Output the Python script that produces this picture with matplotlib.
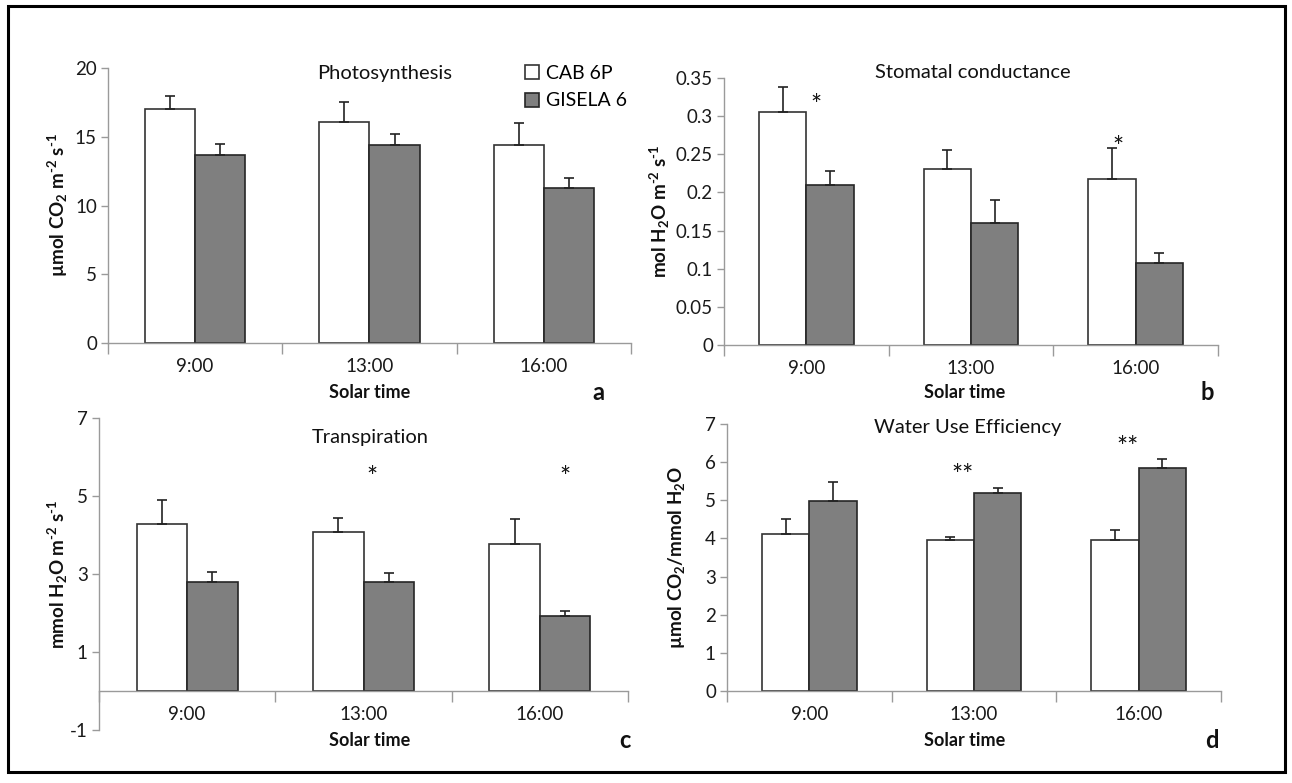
import matplotlib
matplotlib.use("Agg")
import matplotlib.pyplot as plt
import numpy as np
from matplotlib.patches import Rectangle

plt.rcParams['font.family'] = ['Lato', 'DejaVu Sans']
plt.rcParams['mathtext.fontset'] = 'custom'
plt.rcParams['mathtext.rm'] = 'Lato:bold'
plt.rcParams['mathtext.bf'] = 'Lato:bold'
plt.rcParams['mathtext.default'] = 'bf'

W, H = 1292, 783
DPI = 100

# ---------------- data ----------------
times = ["9:00", "13:00", "16:00"]
series = ["CAB 6P", "GISELA 6"]

photo_cab = [17.0, 16.1, 14.4]
photo_cab_err = [1.0, 1.4, 1.6]
photo_gis = [13.7, 14.4, 11.3]
photo_gis_err = [0.8, 0.8, 0.7]

stom_cab = [0.305, 0.231, 0.217]
stom_cab_err = [0.033, 0.024, 0.041]
stom_gis = [0.210, 0.160, 0.107]
stom_gis_err = [0.018, 0.030, 0.013]

trans_cab = [4.27, 4.07, 3.78]
trans_cab_err = [0.62, 0.37, 0.62]
trans_gis = [2.79, 2.80, 1.93]
trans_gis_err = [0.25, 0.23, 0.12]

wue_cab = [4.12, 3.97, 3.97]
wue_cab_err = [0.38, 0.06, 0.26]
wue_gis = [4.97, 5.18, 5.85]
wue_gis_err = [0.52, 0.15, 0.22]

titles = ["Photosynthesis", "Stomatal conductance", "Transpiration", "Water Use Efficiency"]
ylabels = [r"µmol CO$_2$ m$^{\text{-2}}$ s$^{\text{-1}}$",
           r"mol H$_2$O m$^{\text{-2}}$ s$^{\text{-1}}$",
           r"mmol H$_2$O m$^{\text{-2}}$ s$^{\text{-1}}$",
           r"µmol CO$_2$/mmol H$_2$O"]
ylims = [(0, 20), (0, 0.35), (-1, 7), (0, 7)]
yticks = [[0, 5, 10, 15, 20],
          [0, 0.05, 0.1, 0.15, 0.2, 0.25, 0.3, 0.35],
          [-1, 1, 3, 5, 7],
          [0, 1, 2, 3, 4, 5, 6, 7]]
ytick_labels = [["0", "5", "10", "15", "20"],
                ["0", "0.05", "0.1", "0.15", "0.2", "0.25", "0.3", "0.35"],
                ["-1", "1", "3", "5", "7"],
                ["0", "1", "2", "3", "4", "5", "6", "7"]]
letters = ["a", "b", "c", "d"]
# significance marks: (x in category units, y in data units, text)
sig_b = [(0.06, 0.313, "*"), (1.89, 0.257, "*")]
sig_c = [(1.05, 5.45, "*"), (2.14, 5.45, "*")]
sig_d = [(0.93, 5.62, "**"), (1.93, 6.35, "**")]

# ---------------- layout (pixels) ----------------
# left, right, top(y of ymax), bottom(y of ymin)
boxes = [(108, 631, 68, 343),
         (724, 1218, 78, 345),
         (99, 628, 418, 730),
         (727, 1221, 424, 691)]
ylabel_x = [70, 672, 70, 687]
title_pos = [(385, 73), (973, 73), (370, 437), (968, 427)]
solar_pos = [(370, 393), (965, 393), (370, 740), (965, 740)]
letter_pos = [(598, 392), (1207, 392), (625, 740), (1212, 740)]

fig = plt.figure(figsize=(W / DPI, H / DPI), dpi=DPI)
fig.patch.set_facecolor('white')

data = [(photo_cab, photo_cab_err, photo_gis, photo_gis_err),
        (stom_cab, stom_cab_err, stom_gis, stom_gis_err),
        (trans_cab, trans_cab_err, trans_gis, trans_gis_err),
        (wue_cab, wue_cab_err, wue_gis, wue_gis_err)]
sigs = [[], sig_b, sig_c, sig_d]

axis_col = '#9a9a9a'
bw = 0.287
x = np.arange(len(times))
handles = None
for i in range(4):
    l, r, t, b = boxes[i]
    ax = fig.add_axes([l / W, 1 - b / H, (r - l) / W, (b - t) / H])
    cab, cab_e, gis, gis_e = data[i]
    ekw = dict(ecolor='#222222', elinewidth=1.2, capsize=3.5, capthick=1.2)
    h1 = ax.bar(x - bw / 2, cab, bw, color='white', edgecolor='#333333', linewidth=1.2,
                yerr=[np.zeros(3), cab_e], error_kw=ekw, label=series[0], zorder=2)
    h2 = ax.bar(x + bw / 2, gis, bw, color='#7f7f7f', edgecolor='#262626', linewidth=1.2,
                yerr=[np.zeros(3), gis_e], error_kw=ekw, label=series[1], zorder=2)
    if handles is None:
        handles = (h1, h2)
    ax.set_xlim(-0.5, 2.5)
    ax.set_ylim(*ylims[i])
    ax.set_yticks(yticks[i])
    ax.set_yticklabels(ytick_labels[i])
    ax.set_xticks(x)
    ax.set_xticklabels(times)
    ax.set_xticks([-0.5, 0.5, 1.5, 2.5], minor=True)
    for s in ['top', 'right']:
        ax.spines[s].set_visible(False)
    for s in ['left', 'bottom']:
        ax.spines[s].set_color(axis_col)
        ax.spines[s].set_linewidth(1.0)
    if i == 2:
        ax.spines['bottom'].set_position(('data', 0))
    ax.tick_params(axis='y', direction='out', length=5, width=1, color=axis_col,
                   labelsize=13.5, labelcolor='#1a1a1a', pad=3)
    ax.tick_params(axis='x', which='major', length=0, labelsize=13.5,
                   labelcolor='#1a1a1a', pad=11)
    ax.tick_params(axis='x', which='minor', direction='out', length=8, width=1,
                   color=axis_col)
    ax.set_ylabel(ylabels[i], fontsize=13.5, fontweight='bold', color='#111111')
    ax.yaxis.set_label_coords((ylabel_x[i] - l) / (r - l), 0.5)
    ax.patch.set_alpha(0)
    for (sx, sy, st) in sigs[i]:
        ax.text(sx, sy, st, ha='center', va='center', fontsize=19, color='#111111')

    tx, ty = title_pos[i]
    fig.text(tx / W, 1 - ty / H, titles[i], ha='center', va='center', fontsize=14.5,
             color='#111111')
    sx_, sy_ = solar_pos[i]
    fig.text(sx_ / W, 1 - sy_ / H, "Solar time", ha='center', va='center', fontsize=13,
             fontweight='bold', color='#111111')
    lx, ly = letter_pos[i]
    fig.text(lx / W, 1 - ly / H, letters[i], ha='center', va='center', fontsize=17,
             fontweight='bold', color='#111111')

fig.legend(handles, series, loc='upper left', bbox_to_anchor=(517 / W, 1 - 57 / H),
           frameon=False, fontsize=14, handlelength=0.75, handleheight=0.75,
           handletextpad=0.35, labelspacing=0.55, borderaxespad=0)

# outer frame
fig.add_artist(Rectangle((8 / W, 1 - 772 / H), (1285 - 8) / W, (772 - 6) / H,
                         transform=fig.transFigure, fill=False, edgecolor='black',
                         linewidth=2.2))

fig.savefig("out.png", dpi=DPI, facecolor='white')
